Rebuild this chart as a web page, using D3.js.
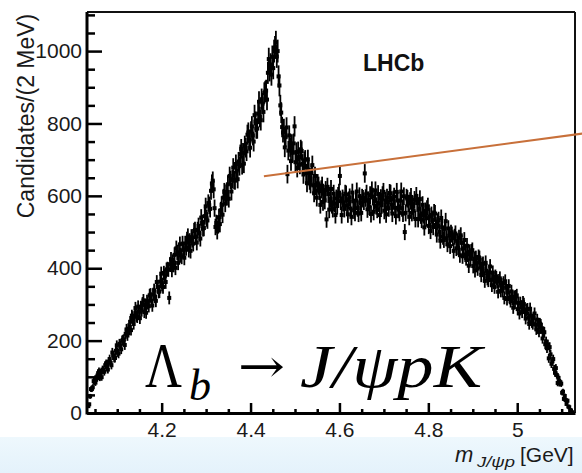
<!DOCTYPE html>
<html>
<head>
<meta charset="utf-8">
<script src="https://cdn.jsdelivr.net/npm/d3@7"></script>
<style>
  html, body { margin: 0; padding: 0; background: #fff; }
  svg { display: block; }
</style>
</head>
<body>
<svg id="chart" width="582" height="473"></svg>
<script>
// J/psi p invariant-mass spectrum, 2 MeV bins starting at 4.035 GeV
const binLow = 4.035;
const binWidth = 0.002;
const counts = [
  19, 24, 46, 66, 66, 71, 88, 87, 84, 99,
  96, 110, 115, 98, 112, 99, 120, 118, 114, 132,
  136, 127, 120, 142, 149, 139, 132, 167, 159, 152,
  152, 172, 187, 168, 164, 191, 186, 176, 200, 202,
  203, 188, 219, 231, 214, 233, 230, 252, 229, 269,
  265, 246, 268, 290, 268, 265, 294, 280, 262, 293,
  283, 303, 311, 279, 299, 277, 309, 303, 295, 325,
  327, 310, 297, 328, 339, 321, 310, 362, 349, 335,
  336, 363, 385, 355, 348, 387, 378, 362, 396, 398,
  396, 318, 411, 424, 395, 418, 409, 437, 401, 455,
  444, 415, 441, 466, 436, 432, 468, 451, 429, 468,
  456, 479, 488, 451, 475, 448, 486, 479, 468, 503,
  506, 487, 471, 506, 517, 496, 482, 540, 525, 510,
  511, 544, 571, 538, 532, 580, 574, 564, 614, 634,
  642, 618, 566, 514, 525, 502, 519, 541, 522, 560,
  575, 548, 595, 611, 579, 607, 598, 632, 592, 655,
  644, 612, 646, 678, 644, 642, 688, 670, 646, 695,
  682, 715, 730, 685, 719, 689, 739, 733, 723, 769,
  775, 752, 733, 778, 792, 767, 750, 823, 805, 786,
  786, 827, 860, 818, 809, 867, 855, 832, 884, 888,
  891, 866, 940, 978, 947, 963, 935, 984, 953, 1000,
  1010, 1024, 985, 1000, 930, 905, 850, 830, 790, 775,
  785, 734, 762, 789, 660, 725, 767, 735, 696, 743,
  719, 745, 792, 693, 721, 677, 723, 707, 686, 728,
  724, 689, 659, 696, 700, 663, 635, 701, 672, 642,
  632, 662, 685, 629, 607, 655, 630, 595, 635, 628,
  613, 575, 618, 628, 583, 606, 587, 616, 535, 625,
  605, 562, 591, 619, 575, 564, 606, 579, 547, 593,
  572, 600, 609, 655, 585, 547, 593, 581, 564, 606,
  604, 574, 549, 588, 596, 565, 542, 609, 585, 560,
  553, 587, 612, 566, 551, 599, 581, 553, 595, 592,
  585, 662, 594, 606, 563, 588, 571, 602, 550, 615,
  598, 556, 586, 615, 572, 562, 605, 579, 547, 594,
  574, 602, 611, 559, 587, 549, 595, 583, 566, 608,
  606, 576, 551, 590, 598, 567, 544, 611, 587, 562,
  553, 587, 612, 566, 551, 599, 500, 553, 595, 592,
  579, 542, 586, 597, 553, 577, 559, 589, 536, 600,
  580, 536, 564, 591, 546, 534, 575, 547, 513, 558,
  538, 564, 571, 517, 543, 503, 547, 533, 514, 554,
  551, 520, 493, 529, 533, 501, 476, 539, 513, 487,
  478, 509, 530, 483, 466, 510, 490, 461, 498, 493,
  483, 448, 487, 496, 455, 475, 458, 484, 436, 491,
  470, 433, 455, 478, 438, 428, 462, 438, 407, 445,
  426, 446, 450, 406, 426, 394, 428, 416, 399, 431,
  428, 403, 381, 409, 412, 386, 365, 415, 393, 372,
  367, 389, 405, 368, 353, 388, 371, 348, 377, 373,
  364, 335, 365, 372, 338, 354, 338, 359, 318, 364,
  346, 315, 333, 351, 318, 309, 336, 316, 291, 321,
  305, 322, 325, 287, 304, 275, 304, 294, 279, 306,
  301, 280, 261, 285, 287, 264, 246, 288, 269, 251,
  246, 263, 275, 244, 231, 258, 244, 224, 247, 244,
  234, 206, 224, 223, 190, 197, 179, 189, 151, 182,
  162, 136, 143, 149, 122, 111, 124, 105, 83, 97,
  82, 85, 81, 56, 59, 39, 47, 36, 25, 34,
  18, 16, 8, 7, 2, 1
];

const xMajorTicks = [4.2, 4.4, 4.6, 4.8, 5.0];
const xTickLabels = ["4.2", "4.4", "4.6", "4.8", "5"];
const yMajorTicks = [0, 200, 400, 600, 800, 1000];
const yTickLabels = ["0", "200", "400", "600", "800", "1000"];

// straight orange guide line, endpoints in (GeV, candidates)
const guideLine = [[4.43, 654], [5.146, 772]];

const plot = { left: 87, right: 575, top: 12, bottom: 413 };

const svg = d3.select("#chart");

// light-blue strip along the bottom of the page
const defs = svg.append("defs");
const grad = defs.append("linearGradient").attr("id", "strip").attr("x1", 0).attr("x2", 0).attr("y1", 0).attr("y2", 1);
grad.append("stop").attr("offset", "0%").attr("stop-color", "#eef8fd");
grad.append("stop").attr("offset", "100%").attr("stop-color", "#e4f2fb");
svg.append("rect").attr("x", 0).attr("y", 437).attr("width", 582).attr("height", 36).attr("fill", "url(#strip)");

const x = d3.scaleLinear().domain([4.032, 5.13]).range([plot.left, plot.right]);
const y = d3.scaleLinear().domain([0, 1108]).range([plot.bottom, plot.top]);

const bins = counts.map((n, i) => ({ m: binLow + binWidth * i, n })).filter(d => d.n > 0);

// data points: Poisson error bars plus markers
const g = svg.append("g");
g.selectAll("line.err").data(bins).join("line")
  .attr("class", "err")
  .attr("x1", d => x(d.m)).attr("x2", d => x(d.m))
  .attr("y1", d => y(d.n - Math.sqrt(d.n))).attr("y2", d => y(d.n + Math.sqrt(d.n)))
  .attr("stroke", "#000").attr("stroke-width", 1.8);
g.selectAll("rect.mk").data(bins).join("rect")
  .attr("class", "mk")
  .attr("x", d => x(d.m) - 2).attr("y", d => y(d.n) - 2)
  .attr("width", 4).attr("height", 4).attr("fill", "#000");

// frame: top and right edges
svg.append("line").attr("x1", plot.left).attr("x2", plot.right).attr("y1", plot.top).attr("y2", plot.top)
  .attr("stroke", "#111").attr("stroke-width", 2);
svg.append("line").attr("x1", plot.right).attr("x2", plot.right).attr("y1", plot.top).attr("y2", plot.bottom)
  .attr("stroke", "#111").attr("stroke-width", 2);

const fontSans = "'Liberation Sans', Arial, sans-serif";

// x axis (ticks point inwards)
const xMinor = d3.range(4.05, 5.13, 0.05).filter(v => !xMajorTicks.some(t => Math.abs(t - v) < 1e-6));
svg.append("g").attr("transform", `translate(0,${plot.bottom})`)
  .call(d3.axisBottom(x).tickValues(xMinor).tickSizeInner(-4).tickSizeOuter(0).tickFormat(""))
  .call(a => a.select(".domain").remove())
  .call(a => a.selectAll(".tick line").attr("stroke", "#000").attr("stroke-width", 2.5));
const xAxis = svg.append("g").attr("transform", `translate(0,${plot.bottom})`)
  .call(d3.axisBottom(x).tickValues(xMajorTicks).tickSizeInner(-10).tickSizeOuter(0).tickPadding(9)
    .tickFormat((d, i) => xTickLabels[i]));
xAxis.select(".domain").attr("stroke", "#000").attr("stroke-width", 3);
xAxis.selectAll(".tick line").attr("stroke", "#000").attr("stroke-width", 2.5);
xAxis.selectAll(".tick text").attr("font-family", fontSans).attr("font-size", 21).attr("fill", "#1a1a1a");

// y axis
const yMinor = d3.range(50, 1101, 50).filter(v => v % 200 !== 0);
svg.append("g").attr("transform", `translate(${plot.left},0)`)
  .call(d3.axisLeft(y).tickValues(yMinor).tickSizeInner(-8).tickSizeOuter(0).tickFormat(""))
  .call(a => a.select(".domain").remove())
  .call(a => a.selectAll(".tick line").attr("stroke", "#000").attr("stroke-width", 2.5));
const yAxis = svg.append("g").attr("transform", `translate(${plot.left},0)`)
  .call(d3.axisLeft(y).tickValues(yMajorTicks).tickSizeInner(-15).tickSizeOuter(0).tickPadding(5)
    .tickFormat((d, i) => yTickLabels[i]));
yAxis.select(".domain").attr("stroke", "#000").attr("stroke-width", 3)
  .attr("d", `M0,${plot.top}V${plot.bottom + 1.5}`);
yAxis.selectAll(".tick line").attr("stroke", "#000").attr("stroke-width", 2.5);
yAxis.selectAll(".tick text").attr("font-family", fontSans).attr("font-size", 21).attr("fill", "#1a1a1a");

// axis titles
svg.append("text")
  .attr("transform", "translate(34,116) rotate(-90)")
  .attr("text-anchor", "middle")
  .attr("font-family", fontSans).attr("font-size", 23).attr("fill", "#1a1a1a")
  .text("Candidates/(2 MeV)");

const xt = svg.append("text").attr("x", 455).attr("y", 462)
  .attr("font-family", fontSans).attr("fill", "#1a1a1a");
xt.append("tspan").attr("font-size", 22).attr("font-style", "italic").text("m");
xt.append("tspan").attr("font-size", 15).attr("font-style", "italic").attr("dy", 5).attr("x", 477)
  .attr("textLength", 38).attr("lengthAdjust", "spacingAndGlyphs").text("J/ψp");
xt.append("tspan").attr("font-size", 21).attr("x", 520).attr("dy", -5).text("[GeV]");

// experiment label
svg.append("text").attr("x", 363).attr("y", 71)
  .attr("font-family", fontSans).attr("font-weight", "bold").attr("font-size", 23).attr("fill", "#111")
  .text("LHCb");

// orange guide line
svg.append("path")
  .attr("d", d3.line().x(d => x(d[0])).y(d => y(d[1]))(guideLine))
  .attr("stroke", "#c8703a").attr("stroke-width", 2).attr("fill", "none");

// decay label  Λb → J/ψ p K, set as one text run
const serif = "'Liberation Serif', 'Times New Roman', serif";
const decay = svg.append("text").attr("font-family", serif).attr("fill", "#000");
decay.append("tspan").attr("x", 145).attr("y", 387).attr("font-size", 64)
  .attr("textLength", 37).attr("lengthAdjust", "spacingAndGlyphs").text("Λ");
decay.append("tspan").attr("x", 189).attr("y", 400).attr("font-size", 44).attr("font-style", "italic")
  .attr("textLength", 22).attr("lengthAdjust", "spacingAndGlyphs").text("b");
decay.append("tspan").attr("x", 238).attr("y", 382).attr("font-size", 46)
  .attr("font-family", "'DejaVu Serif', serif")
  .attr("textLength", 47).attr("lengthAdjust", "spacingAndGlyphs").text("→");
decay.append("tspan").attr("x", 300).attr("y", 387).attr("font-size", 62).attr("font-style", "italic")
  .attr("textLength", 182).attr("lengthAdjust", "spacingAndGlyphs").text("J/ψpK");
</script>
</body>
</html>
